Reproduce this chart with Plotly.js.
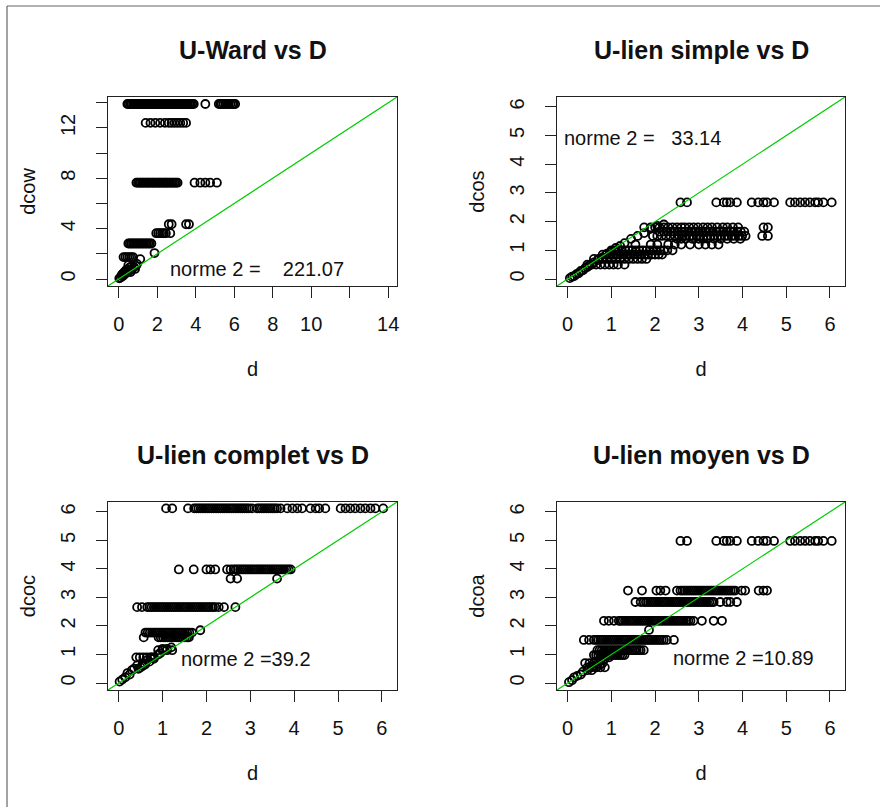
<!DOCTYPE html>
<html>
<head>
<meta charset="utf-8">
<script src="https://cdn.plot.ly/plotly-3.0.1.min.js"></script>
<style>
  html, body { margin: 0; padding: 0; background: #fff; }
  #chart { width: 880px; height: 807px; }
</style>
</head>
<body>
<div id="chart"></div>
<script>
// ---------------- DATA ----------------
// Panel titles / labels
const panel_titles = ["U-Ward vs D", "U-lien simple vs D", "U-lien complet vs D", "U-lien moyen vs D"];
const y_labels = ["dcow", "dcos", "dcoc", "dcoa"];
const x_label = "d";
const norm_texts = ["norme 2 =\u00a0\u00a0\u00a0\u00a0221.07", "norme 2 =\u00a0\u00a0\u00a033.14", "norme 2 =39.2", "norme 2 =10.89"];
const norm_pos_x = [7.2, 1.72, 2.91, 4.02];
const norm_pos_y = [0.8, 4.92, 0.86, 0.88];

// Axis ranges (both axes share the same range in each panel)
const ward_range = [-0.556, 14.456];
const small_range = [-0.244, 6.344];

// Ticks
const ward_ticks = [0, 2, 4, 6, 8, 10, 12, 14];
const ward_xtick_text = ["0", "2", "4", "6", "8", "10", "", "14"];
const ward_ytick_text = ["0", "", "4", "", "8", "", "12", ""];
const small_ticks = [0, 1, 2, 3, 4, 5, 6];
const small_tick_text = ["0", "1", "2", "3", "4", "5", "6"];

// ---- Panel 1 : U-Ward (dcow vs d), points grouped by their dcow level
const ward_levels = [13.9, 12.4, 7.65, 4.35, 3.64, 2.82, 1.74];
const ward_x = [
  [0.45,0.52,0.6,0.67,0.75,0.82,0.9,0.97,1.05,1.12,1.2,1.27,1.35,1.42,1.5,1.57,1.65,1.72,1.8,1.87,1.95,2.02,2.1,2.17,2.25,2.32,2.4,2.47,2.55,2.62,2.7,2.77,2.85,2.92,3.0,3.07,3.15,3.22,3.3,3.37,3.45,3.52,3.6,3.67,3.75,3.82,3.9,4.5,5.2,5.28,5.35,5.45,5.55,5.62,5.7,5.8,5.9,5.97,6.05],
  [1.4,1.65,1.9,2.15,2.4,2.6,2.75,2.9,3.05,3.2,3.35,3.5],
  [0.92,1.0,1.08,1.15,1.23,1.3,1.38,1.46,1.53,1.6,1.68,1.76,1.83,1.9,1.98,2.06,2.13,2.2,2.28,2.36,2.44,2.5,2.58,2.66,2.74,2.82,2.9,2.98,3.06,3.94,4.24,4.5,4.75,5.1],
  [2.6,2.75,3.5,3.65],
  [1.95,2.05,2.15,2.25,2.35,2.45,2.68],
  [0.5,0.58,0.66,0.74,0.82,0.9,0.98,1.06,1.14,1.22,1.3,1.38,1.46,1.54,1.62,1.7],
  [0.25,0.35,0.45,0.55,0.65,0.75]
];
const ward_extra_x = [1.12,1.86,0.03,0.1,0.15,0.2,0.25,0.3,0.35,0.4,0.45,0.5,0.55,0.6,0.65,0.7,0.8,0.9,0.95,0.3,0.5,0.2,0.38,0.62,0.85];
const ward_extra_y = [1.58,2.06,0.05,0.12,0.3,0.22,0.45,0.35,0.6,0.5,0.75,0.6,0.9,0.7,1.0,0.8,0.95,1.05,1.2,0.55,1.1,0.4,0.7,0.55,0.8];

// ---- Panel 2 : U-lien simple (dcos vs d)
const simple_levels = [2.67, 1.8, 1.65, 1.5, 1.4, 1.2, 1.0, 0.85, 0.7, 0.5];
const simple_x = [
  [2.58,2.73,3.4,3.57,3.64,3.72,3.87,4.21,4.36,4.48,4.56,4.72,5.09,5.2,5.32,5.43,5.54,5.66,5.73,5.85,6.04],
  [1.75,1.9,2.0,2.1,2.2,2.3,2.4,2.5,2.6,2.68,2.78,2.88,2.98,3.1,3.2,3.3,3.42,3.55,3.65,3.78,3.9,4.48,4.58],
  [2.1,2.2,2.28,2.36,2.44,2.52,2.6,2.68,2.76,2.84,2.92,3.0,3.08,3.16,3.24,3.32,3.4,3.48,3.56,3.64,3.72,3.8,3.88,3.96,4.04],
  [1.95,2.05,2.15,2.25,2.35,2.45,2.55,2.63,2.71,2.79,2.87,2.95,3.03,3.11,3.19,3.27,3.35,3.43,3.51,3.59,3.67,3.75,3.83,3.91,3.99,4.07,4.45,4.58],
  [2.5,2.6,2.7,2.85,3.0,3.1,3.2,3.35,3.5,3.65,3.8,3.95],
  [1.55,1.9,2.05,2.3,2.45,2.6,2.8,3.0,3.15,3.3,3.45],
  [1.0,1.08,1.16,1.24,1.32,1.4,1.48,1.56,1.64,1.72,1.8,1.88,1.96,2.04,2.12,2.2,2.28,2.4],
  [0.8,0.88,0.96,1.04,1.12,1.2,1.28,1.36,1.44,1.52,1.6,1.68,1.76,1.84,1.92,2.0,2.08,2.16],
  [0.6,0.7,0.8,0.9,1.0,1.1,1.2,1.3,1.4,1.5,1.6,1.7,1.8],
  [0.45,0.55,0.65,0.75,0.85,0.95,1.05,1.15,1.3]
];
const simple_extra_x = [0.05,0.1,0.15,0.2,0.25,0.3,0.35,0.4,0.45,0.5,0.55,0.6,0.7,0.8,0.9,1.0,1.1,1.2,1.3,1.45,1.6,1.75,1.9,2.05,2.2];
const simple_extra_y = [0.03,0.08,0.1,0.17,0.2,0.28,0.3,0.38,0.42,0.48,0.52,0.58,0.66,0.75,0.88,0.95,1.08,1.15,1.25,1.4,1.5,1.6,1.75,1.85,1.9];

// ---- Panel 3 : U-lien complet (dcoc vs d)
const complete_levels = [6.12, 3.98, 3.66, 2.66, 1.77, 1.6, 1.15, 0.9];
const complete_x = [
  [1.08,1.22,1.58,1.72,1.77,1.82,1.87,1.92,1.97,2.02,2.07,2.12,2.17,2.22,2.27,2.32,2.37,2.42,2.47,2.52,2.57,2.62,2.67,2.72,2.77,2.82,2.87,2.92,2.97,3.04,3.16,3.21,3.26,3.31,3.36,3.41,3.46,3.51,3.56,3.61,3.69,3.84,3.96,4.07,4.18,4.37,4.49,4.57,4.71,5.06,5.17,5.28,5.39,5.51,5.62,5.74,5.85,6.03],
  [1.37,1.71,2.0,2.09,2.2,2.47,2.55,2.62,2.67,2.72,2.77,2.82,2.87,2.92,2.97,3.02,3.07,3.12,3.17,3.22,3.27,3.32,3.37,3.42,3.47,3.52,3.57,3.62,3.67,3.72,3.77,3.82,3.87,3.92],
  [2.55,2.7,3.61],
  [0.42,0.53,0.65,0.7,0.75,0.8,0.85,0.9,0.95,1.0,1.05,1.1,1.15,1.2,1.25,1.3,1.35,1.4,1.45,1.5,1.55,1.6,1.65,1.7,1.75,1.8,1.85,1.9,1.95,2.0,2.05,2.1,2.15,2.2,2.28,2.4,2.66],
  [0.61,0.66,0.71,0.76,0.81,0.86,0.91,0.96,1.01,1.06,1.11,1.16,1.21,1.26,1.31,1.36,1.41,1.46,1.51,1.56,1.61,1.67],
  [0.57,0.91,0.96,1.01,1.06,1.11,1.16,1.21,1.26,1.31,1.36,1.41,1.46,1.51,1.56,1.6],
  [0.9,1.0,1.1,1.22],
  [0.4,0.48,0.56,0.64,0.72,0.8]
];
const complete_extra_x = [1.86,0.02,0.08,0.15,0.2,0.25,0.3,0.35,0.42,0.5,0.55,0.6,0.65,0.7,0.75,0.8,0.9,0.95,1.0,1.1,1.2,0.45,0.55];
const complete_extra_y = [1.85,0.05,0.12,0.2,0.35,0.3,0.45,0.5,0.62,0.55,0.7,0.65,0.8,0.75,0.9,0.85,1.0,1.05,1.2,1.2,1.25,0.5,0.6];

// ---- Panel 4 : U-lien moyen (dcoa vs d)
const average_levels = [4.98, 3.24, 2.84, 2.18, 1.51, 1.15, 0.98, 0.7, 0.55];
const average_x = [
  [2.58,2.73,3.4,3.57,3.64,3.72,3.87,4.21,4.36,4.48,4.56,4.72,5.09,5.2,5.32,5.43,5.54,5.66,5.73,5.85,6.04],
  [1.38,1.7,2.03,2.12,2.24,2.5,2.58,2.63,2.68,2.73,2.78,2.83,2.88,2.93,2.98,3.03,3.08,3.13,3.18,3.23,3.28,3.33,3.38,3.43,3.48,3.53,3.58,3.63,3.68,3.73,3.78,3.83,3.98,4.06,4.37,4.48,4.56],
  [1.55,1.67,1.74,1.79,1.84,1.89,1.94,1.99,2.04,2.09,2.14,2.19,2.24,2.29,2.34,2.39,2.44,2.49,2.54,2.59,2.64,2.69,2.74,2.79,2.84,2.89,2.94,2.99,3.04,3.09,3.14,3.19,3.24,3.29,3.34,3.49,3.64,3.72,3.87],
  [0.83,0.94,1.06,1.17,1.21,1.26,1.31,1.36,1.41,1.46,1.51,1.56,1.61,1.66,1.71,1.76,1.81,1.86,1.91,1.96,2.01,2.06,2.11,2.16,2.21,2.26,2.31,2.36,2.41,2.46,2.51,2.56,2.61,2.66,2.71,2.76,2.81,2.88,3.07,3.34,3.53],
  [0.37,0.49,0.6,0.65,0.7,0.75,0.8,0.85,0.9,0.95,1.0,1.05,1.1,1.15,1.2,1.25,1.3,1.35,1.4,1.45,1.5,1.55,1.6,1.65,1.7,1.75,1.8,1.85,1.9,1.95,2.0,2.05,2.1,2.15,2.2,2.27,2.43],
  [0.68,0.73,0.78,0.83,0.88,0.93,0.98,1.03,1.08,1.13,1.18,1.23,1.28,1.33,1.38,1.43,1.48,1.53,1.58,1.63,1.67,1.74],
  [0.6,0.65,0.7,0.75,0.8,0.85,0.9,0.95,1.0,1.05,1.1,1.15,1.2,1.25,1.3],
  [0.4,0.5,0.6,0.7,0.8],
  [0.45,0.55,0.65,0.75,0.85]
];
const average_extra_x = [1.86,0.03,0.1,0.15,0.22,0.3,0.35,0.45,0.5,0.6,0.65,0.75,0.85,0.95,1.0,1.1,0.55,0.65,0.75];
const average_extra_y = [1.86,0.03,0.1,0.2,0.25,0.3,0.4,0.45,0.55,0.6,0.75,0.8,0.85,0.9,1.05,1.1,0.45,0.55,0.65];

// ---------------- BUILD ----------------
function buildPoints(levels, rows, ex, ey) {
  const xs = [], ys = [];
  rows.forEach(function (row, i) {
    row.forEach(function (v) { xs.push(v); ys.push(levels[i]); });
  });
  return { x: xs.concat(ex), y: ys.concat(ey) };
}

const panels = [
  buildPoints(ward_levels, ward_x, ward_extra_x, ward_extra_y),
  buildPoints(simple_levels, simple_x, simple_extra_x, simple_extra_y),
  buildPoints(complete_levels, complete_x, complete_extra_x, complete_extra_y),
  buildPoints(average_levels, average_x, average_extra_x, average_extra_y)
];
const ranges = [ward_range, small_range, small_range, small_range];

const W = 880, H = 807;
const FONT = "Arial, 'Liberation Sans', sans-serif";
// plot boxes in pixels: [left, right, top, bottom]
const boxes = [
  [108, 397, 97, 286],
  [557, 845, 97, 286],
  [108, 397, 502, 690],
  [557, 845, 502, 690]
];

const traces = [];
const layout = {
  width: W, height: H,
  margin: { l: 0, r: 0, t: 0, b: 0, pad: 0 },
  paper_bgcolor: "#ffffff",
  plot_bgcolor: "#ffffff",
  showlegend: false,
  font: { family: FONT, size: 20, color: "#111" },
  annotations: [],
  shapes: [
    { type: "line", xref: "paper", yref: "paper", x0: 7 / W, x1: 1, y0: 1 - 6 / H, y1: 1 - 6 / H, line: { color: "#666", width: 1.2 } },
    { type: "line", xref: "paper", yref: "paper", x0: 7 / W, x1: 7 / W, y0: 0, y1: 1 - 6 / H, line: { color: "#666", width: 1.2 } }
  ]
};

for (let i = 0; i < 4; i++) {
  const sfx = i === 0 ? "" : String(i + 1);
  const xa = "x" + sfx, ya = "y" + sfx;
  const b = boxes[i];
  const isWard = i === 0;

  traces.push({
    type: "scatter", mode: "markers",
    x: panels[i].x, y: panels[i].y,
    xaxis: xa, yaxis: ya,
    marker: { symbol: "circle-open", size: 8, color: "#000", line: { width: 1.8, color: "#000" } },
    hoverinfo: "x+y"
  });
  traces.push({
    type: "scatter", mode: "lines",
    x: ranges[i], y: ranges[i],
    xaxis: xa, yaxis: ya,
    line: { color: "#00cc00", width: 1.2 },
    hoverinfo: "skip"
  });

  const common = {
    showgrid: false, zeroline: false,
    showline: true, mirror: true, linecolor: "#222", linewidth: 1,
    ticks: "outside", ticklen: 11, tickwidth: 1, tickcolor: "#222",
    tickfont: { family: FONT, size: 20, color: "#111" },
    fixedrange: true, automargin: false
  };

  layout["xaxis" + sfx] = Object.assign({}, common, {
    domain: [b[0] / W, b[1] / W],
    anchor: ya,
    range: ranges[i],
    tickmode: "array",
    tickvals: isWard ? ward_ticks : small_ticks,
    ticktext: isWard ? ward_xtick_text : small_tick_text,
    ticklabelstandoff: 9,
    title: { text: x_label, font: { family: FONT, size: 20, color: "#111" }, standoff: 27 }
  });
  layout["yaxis" + sfx] = Object.assign({}, common, {
    domain: [1 - b[3] / H, 1 - b[2] / H],
    anchor: xa,
    range: ranges[i],
    tickmode: "array",
    tickvals: isWard ? ward_ticks : small_ticks,
    ticktext: isWard ? ward_ytick_text : small_tick_text,
    tickangle: -90,
    ticklabelstandoff: 13,
    title: { text: y_labels[i], font: { family: FONT, size: 20, color: "#111" }, standoff: 16 }
  });

  // panel title
  layout.annotations.push({
    xref: "paper", yref: "paper",
    x: (b[0] + b[1]) / 2 / W, y: 1 - (b[2] - 47) / H,
    xanchor: "center", yanchor: "middle",
    text: "<b>" + panel_titles[i] + "</b>",
    showarrow: false,
    font: { family: FONT, size: 25, color: "#111" }
  });
  // norme 2 label
  layout.annotations.push({
    xref: xa, yref: ya,
    x: norm_pos_x[i], y: norm_pos_y[i],
    xanchor: "center", yanchor: "middle",
    text: norm_texts[i],
    showarrow: false,
    font: { family: FONT, size: 20, color: "#111" }
  });
}

Plotly.newPlot("chart", traces, layout, { displayModeBar: false, staticPlot: false });
</script>
</body>
</html>
